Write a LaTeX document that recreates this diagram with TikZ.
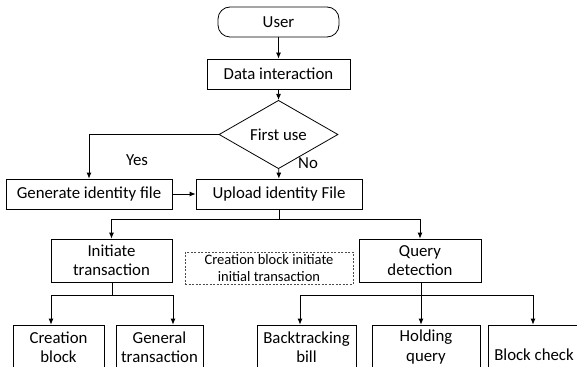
\documentclass[tikz,border=0pt]{standalone}
\usepackage{fontspec}
\setmainfont{Carlito}
\usetikzlibrary{shapes,arrows.meta,positioning,calc}

\begin{document}
\begin{tikzpicture}[x=1pt,y=-1pt,
    box/.style={draw,line width=0.8pt,inner sep=0pt,align=center,font=\fontsize{16.8}{19.5}\selectfont},
    arr/.style={-{Latex[length=6pt,width=5pt]},line width=0.8pt}]
    \useasboundingbox (0,0) rectangle (577,366);
    \clip (0,0) rectangle (577,366);

    \node[box,rounded corners=12pt,minimum width=121pt,minimum height=30pt] (user) at (278.5,22) {User};
    \node[box,minimum width=143pt,minimum height=30pt] (data) at (278.5,74) {Data interaction};
    \node[box,diamond,minimum width=119pt,minimum height=45pt] (first) at (278.5,134.5) {First use};

    \node[box,minimum width=166pt,minimum height=30pt] (gen) at (89,194) {Generate identity file};
    \node[box,minimum width=166pt,minimum height=30pt] (upload) at (279,194) {Upload identity File};

    \node[box,minimum width=121pt,minimum height=43pt] (init) at (111.5,260.5) {Initiate\\transaction};
    \node[box,draw=black!70,line width=0.6pt,dash pattern=on 2pt off 1.5pt,minimum width=168pt,minimum height=32pt,
          font=\fontsize{14.5}{16.5}\selectfont] (note) at (269,268) {Creation block initiate\\initial transaction};
    \node[box,minimum width=122pt,minimum height=43pt] (query) at (420,260.5) {Query\\detection};

    \node[box,minimum width=91pt,minimum height=44pt] (cblock) at (58.5,347) {Creation\\block};
    \node[box,minimum width=87pt,minimum height=44pt] (gtrans) at (159.5,347) {General\\transaction};
    \node[box,minimum width=99pt,minimum height=44pt] (back) at (306.5,347) {Backtracking\\bill};
    \node[box,minimum width=108pt,minimum height=44pt] (hold) at (426,347) {Holding\\query};
    \node[box,minimum width=92pt,minimum height=60pt] (bcheck) at (534,355) {Block check};

    % main line
    \draw[arr] (user) -- (data);
    \draw[arr] (data) -- (first);
    \draw[arr] (first.west) -| (gen.north);
    \draw[arr] (first) -- (upload);
    \draw[arr] (gen) -- (upload);
    \node[font=\fontsize{16.8}{19.5}\selectfont] (yes) at (137,160) {Yes};
    \node[font=\fontsize{16.8}{19.5}\selectfont] (no) at (308,163) {No};

    % split into the two branches
    \coordinate (j1) at (279,219);
    \draw[line width=0.8pt] (upload.south) -- (j1);
    \draw[arr] (j1) -| (init.north);
    \draw[arr] (j1) -| (query.north);

    \coordinate (j2) at (112,295);
    \draw[line width=0.8pt] (init.south -| j2) -- (j2);
    \draw[arr] (j2) -| ([xshift=-7.5pt]cblock.north);
    \draw[arr] (j2) -| ([xshift=13.5pt]gtrans.north);

    \coordinate (j3) at (421,295);
    \draw[line width=0.8pt] (query.south -| j3) -- (j3);
    \draw[arr] (j3) -| ([xshift=-6.5pt]back.north);
    \draw[arr] (j3) -- (j3 |- hold.north);
    \draw[arr] (j3) -| ([xshift=-1pt]bcheck.north);
\end{tikzpicture}
\end{document}
